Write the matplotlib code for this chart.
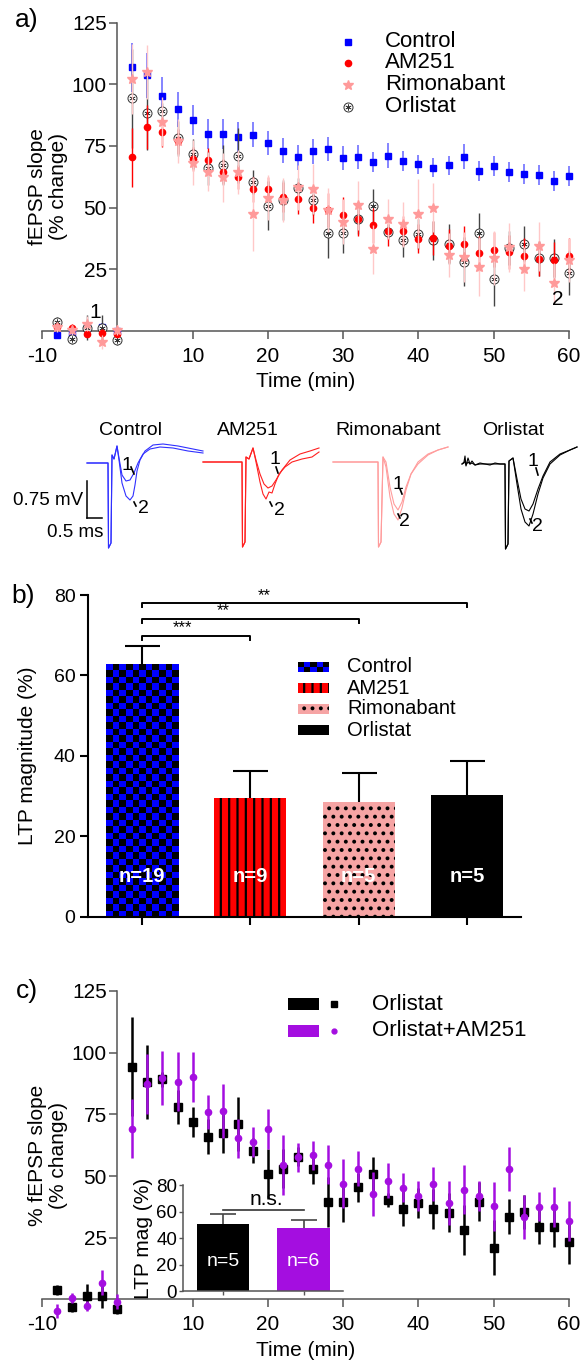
import numpy as np
import matplotlib
matplotlib.use("Agg")
import matplotlib.pyplot as plt
from matplotlib.colors import ListedColormap
from matplotlib.patches import Rectangle

plt.rcParams["font.family"] = ["Liberation Sans", "DejaVu Sans"]
plt.rcParams["hatch.linewidth"] = 1.6
plt.rcParams["axes.unicode_minus"] = False

# ---------------- data ----------------
time_min = [-8, -6, -4, -2, 0, 2, 4, 6, 8, 10, 12, 14, 16, 18, 20, 22, 24, 26, 28, 30,
            32, 34, 36, 38, 40, 42, 44, 46, 48, 50, 52, 54, 56, 58, 60]

control = [-1.6, -1.3, 1.1, 1.8, 0.0,
           106.8, 103.6, 95.1, 89.8, 85.5, 79.8, 79.8, 78.6, 79.5, 76.2, 73.1, 70.4, 72.8, 73.7, 70.1,
           70.5, 68.5, 71.0, 68.8, 67.5, 66.2, 67.1, 70.6, 64.8, 66.9, 64.3, 63.7, 63.1, 60.8, 62.8]
control_err = [1, 1, 1.5, 1.5, 1,
               10, 9, 8, 7, 6, 6, 6, 6, 5, 5, 5, 5, 5, 5, 5,
               5, 4, 5, 4, 4, 4, 4, 5, 4, 4, 4, 4, 4, 4, 4]

am251 = [1.8, 1.4, -1.1, -0.8, -1.1,
         70.4, 82.7, 80.5, 76.9, 69.7, 69.3, 64.6, 62.4, 57.4, 57.5, 54.4, 53.5, 49.7, 49.0, 47.1,
         45.4, 42.8, 40.4, 40.4, 37.4, 37.7, 34.4, 35.4, 31.5, 32.9, 32.0, 30.5, 29.2, 28.9, 30.5]
am251_err = [1.5, 1.5, 1.5, 1.5, 1.5,
             12, 9, 6, 5, 5, 5, 5, 5, 5, 5, 6, 6, 6, 7, 7,
             7, 7, 6, 6, 6, 7, 7, 7, 7, 7, 7, 7, 7, 7, 7]

rimonabant = [1.5, 0.5, 3.0, -4.5, 0.5,
              102.1, 105.0, 84.8, 77.0, 68.2, 64.6, 62.3, 64.3, 47.5, 54.0, 53.0, 58.2, 57.5, 49.0, 44.3,
              50.9, 33.1, 45.3, 43.2, 47.5, 50.0, 30.7, 30.0, 26.1, 29.6, 33.9, 25.2, 34.3, 19.4, 28.8]
rimonabant_err = [2, 2, 3, 3, 2,
                  14, 11, 10, 9, 9, 8, 10, 9, 15, 9, 9, 9, 10, 9, 9,
                  10, 10, 8, 9, 14, 10, 9, 10, 12, 11, 10, 9, 10, 8, 9]

orlistat = [3.8, -3.2, 1.4, 1.4, -3.8,
            94.3, 88.2, 89.2, 78.0, 71.8, 66.0, 67.3, 71.1, 60.3, 50.8, 53.0, 57.9, 52.9, 39.5, 39.5,
            45.4, 50.7, 40.3, 36.8, 39.2, 36.7, 35.2, 28.1, 39.6, 21.0, 33.6, 35.4, 29.4, 29.4, 23.4]
orlistat_err = [2, 2, 5, 5, 2,
                20, 15, 3, 7, 6, 7, 8, 11, 5, 10, 8, 4, 6, 10, 8,
                6, 7, 3, 7, 6, 8, 8, 10, 8, 11, 7, 7, 7, 8, 9]

orl_am251 = [-4.7, 0.7, -2.5, 6.8, -0.9,
             69.2, 87.3, 89.6, 88.2, 90.1, 75.9, 76.4, 65.3, 63.9, 69.0, 54.5, 57.6, 58.4, 54.6, 46.9,
             53.0, 42.7, 48.1, 45.3, 41.9, 46.7, 39.2, 44.5, 41.9, 37.7, 52.9, 33.3, 37.6, 37.5, 31.7]
orl_am251_err = [3, 2, 2, 5, 3,
                 12, 12, 11, 12, 10, 7, 11, 8, 6, 8, 12, 6, 6, 8, 10,
                 7, 9, 7, 6, 6, 7, 9, 10, 6, 10, 9, 9, 6, 8, 8]

groups_b = ["Control", "AM251", "Rimonabant", "Orlistat"]
ltp_b = [62.9, 29.5, 28.4, 30.3]
ltp_b_err = [4.5, 6.8, 7.3, 8.3]
n_b = ["n=19", "n=9", "n=5", "n=5"]
sig_pairs = [(0, 1), (0, 2), (0, 3)]
sig_labels = ["***", "**", "**"]
sig_heights = [69.7, 74.0, 77.9]

groups_inset = ["Orlistat", "Orlistat+AM251"]
ltp_inset = [50.4, 47.6]
ltp_inset_err = [7.5, 6.0]
n_inset = ["n=5", "n=6"]
ns_height = 61.1

# example traces (sample points, in pixels relative to stimulus)
trace_names = ["Control", "AM251", "Rimonabant", "Orlistat"]
tr_ctrl_1_x = [-21, 0, 0.5, 3, 4, 6, 9, 11, 14, 18, 22, 26, 30, 35, 42, 52, 65, 80, 95]
tr_ctrl_1_y = [0, 0, 85, 80, -8, -4, -17, -5, 12, 18, 17, 10, 0, -9, -14, -16, -15, -12, -10]
tr_ctrl_2_x = [-21, 0, 0.5, 3, 4, 6, 9, 11, 14, 18, 22, 25, 27, 29, 32, 37, 45, 55, 70, 85, 95]
tr_ctrl_2_y = [0, 0, 85, 80, -8, -4, -17, -3, 20, 33, 37, 33, 22, 8, -3, -12, -18, -19, -17, -14, -12]
tr_am_1_x = [-39, 0, 0.5, 3, 4, 7, 11, 14, 18, 22, 26, 30, 34, 40, 48, 58, 68, 77]
tr_am_1_y = [0, 0, 85, 80, -5, -3, -14, -2, 12, 22, 26, 24, 18, 8, -2, -8, -11, -14]
tr_am_2_x = [-39, 0, 0.5, 3, 4, 7, 11, 14, 18, 21, 24, 27, 30, 33, 37, 43, 50, 60, 70, 77]
tr_am_2_y = [0, 0, 85, 80, -5, -3, -14, 0, 20, 32, 37, 30, 31, 22, 12, 5, 0, -3, -5, -10]
tr_rim_1_x = [-45, 0, 0.5, 3, 5, 8, 12, 16, 20, 24, 28, 33, 40, 50, 60, 70]
tr_rim_1_y = [0, 0, 85, 80, -5, 0, 25, 42, 48, 40, 25, 12, 2, -7, -12, -15]
tr_rim_2_x = [-45, 0, 0.5, 3, 5, 8, 12, 16, 20, 24, 28, 33, 40, 50, 60, 70]
tr_rim_2_y = [0, 0, 85, 80, -5, 5, 35, 52, 58, 46, 28, 12, 0, -8, -12, -15]
tr_orl_1_x = [-43, -41, -40, -39, -37, -35, -33, -30, -25, -20, -15, -10, -5, 0, 0.5, 3, 4, 8,
              12, 16, 20, 24, 28, 33, 38, 45, 55, 65, 72]
tr_orl_1_y = [0, -2, -8, 2, -6, 0, -3, 1, -1, 0, 1, -1, 0, 0, 85, 80, -3, -6,
              15, 35, 45, 47, 40, 25, 12, -2, -10, -14, -17]
tr_orl_2_x = tr_orl_1_x
tr_orl_2_y = [0, -1, -3, 1, -2, 0, -1, 1, 0, 0, 0, 0, 0, 0, 85, 80, -3, -6,
              20, 45, 58, 62, 50, 30, 14, 0, -9, -14, -17]
scale_mv = 0.75
scale_ms = 0.5

# ---------------- layout helpers ----------------
W, H = 583, 1364
fig = plt.figure(figsize=(W / 100, H / 100), dpi=100)


def rect(l, t, r, b):
    return [l / W, 1 - b / H, (r - l) / W, (b - t) / H]


BLUE = "#0000ff"
RED = "#ff0000"
PINK = "#ff9a9a"
PURPLE = "#a40ee0"
TICK_FS = 15


def style_time_axes(ax, spine_color):
    ax.set_xlim(-10, 60)
    ax.set_ylim(-8, 125)
    for s in ["top", "right"]:
        ax.spines[s].set_visible(False)
    ax.spines["left"].set_position(("data", 0))
    ax.spines["bottom"].set_position(("data", 0))
    ax.spines["left"].set_bounds(0, 125)
    ax.spines["bottom"].set_bounds(-10, 60)
    for s in ["left", "bottom"]:
        ax.spines[s].set_color(spine_color)
        ax.spines[s].set_linewidth(1.1)
    ax.set_xticks([-10, 10, 20, 30, 40, 50, 60])
    ax.set_yticks([25, 50, 75, 100, 125])
    ax.tick_params(axis="x", length=5.5, width=1.1, color=spine_color, labelsize=TICK_FS, pad=6)
    ax.tick_params(axis="y", length=5.5, width=1.1, color=spine_color, labelsize=TICK_FS, pad=2)
    ax.set_xlabel("Time (min)", fontsize=TICK_FS)
    ax.xaxis.set_label_coords(0.5, -0.065)
    ax.patch.set_visible(False)


# ---------------- panel a ----------------
ax_a = fig.add_axes(rect(42, 22.5, 569, 350.7))
style_time_axes(ax_a, "#555555")
ax_a.set_ylabel("fEPSP slope\n(% change)", fontsize=TICK_FS, linespacing=1.15)
ax_a.yaxis.set_label_coords(0.05, 0.5)

ax_a.errorbar(time_min, control, yerr=control_err, fmt="s", color=BLUE, ms=5, ecolor="#7070ff",
              elinewidth=1.2, capsize=0, zorder=3, clip_on=False)
ax_a.errorbar(time_min, orlistat, yerr=orlistat_err, fmt="o", mfc="white", mec="#333333", ms=6.5,
              mew=0.7, ecolor="#444444", elinewidth=1.0, capsize=0, zorder=4, clip_on=False)
ax_a.plot(time_min, orlistat, ls="none", marker=(6, 2, 0), ms=4.5, mew=0.45, color="#333333",
          zorder=4.1, clip_on=False)
ax_a.errorbar(time_min, am251, yerr=am251_err, fmt="o", color=RED, ms=4.5, ecolor=RED,
              elinewidth=1.0, capsize=0, zorder=5, clip_on=False)
ax_a.errorbar(time_min, rimonabant, yerr=rimonabant_err, fmt="*", color=PINK, ms=7.5,
              ecolor="#ffc8c8", elinewidth=1.0, capsize=0, zorder=6, clip_on=False)
ax_a.text(-2.96, 7.3, "1", fontsize=TICK_FS, ha="center", va="center", zorder=7)
ax_a.text(58.5, 12.6, "2", fontsize=TICK_FS, ha="center", va="center", zorder=7)

# ---------------- traces ----------------
PX_PER_MS = 30.0
PX_PER_MV = 48.9
ax_t = fig.add_axes(rect(0, 405, 583, 555))
ax_t.set_xlim(0, W / PX_PER_MS)
ax_t.set_ylim(-150 / PX_PER_MV, 0)
ax_t.axis("off")


def px2t(px, py):
    return px / PX_PER_MS, -(py - 405) / PX_PER_MV


trace_sets = [
    ((108, 463), "#3030ff", [(tr_ctrl_1_x, tr_ctrl_1_y), (tr_ctrl_2_x, tr_ctrl_2_y)]),
    ((242, 462), "#ff2020", [(tr_am_1_x, tr_am_1_y), (tr_am_2_x, tr_am_2_y)]),
    ((378, 462), "#ff9c9c", [(tr_rim_1_x, tr_rim_1_y), (tr_rim_2_x, tr_rim_2_y)]),
    ((505, 464), "#000000", [(tr_orl_1_x, tr_orl_1_y), (tr_orl_2_x, tr_orl_2_y)]),
]
for (ox, oy), col, sweeps in trace_sets:
    x0, y0 = px2t(ox, oy)
    for sx, sy in sweeps:
        ax_t.plot(x0 + np.array(sx) / PX_PER_MS, y0 - np.array(sy) / PX_PER_MV, color=col, lw=0.8)

title_pos = [(130, 430), (248, 430), (388, 430), (513, 430)]
for name, (px, py) in zip(trace_names, title_pos):
    ax_t.text(*px2t(px, py), name, fontsize=14, ha="center", va="center")

num_labels = [
    ("1", (126.7, 465), (131, 467), (134, 474)), ("2", (143, 508), (134, 502), (136, 506)),
    ("1", (275, 459), (276, 467), (278, 473)), ("2", (279, 510), (270, 502), (272, 506)),
    ("1", (398, 484), (400, 489), (402, 494)), ("2", (404, 521), (398, 514), (400, 518)),
    ("1", (533, 461), (536, 468), (538, 475)), ("2", (537, 526), (530, 519), (532, 523)),
]
for lab, tp, a, b in num_labels:
    ax_t.text(*px2t(*tp), lab, fontsize=14, ha="center", va="center")
    (ax_, ay_), (bx_, by_) = px2t(*a), px2t(*b)
    ax_t.plot([ax_, bx_], [ay_, by_], color="black", lw=1.2)

sb_x, sb_y = px2t(87, 518)
ax_t.plot([sb_x, sb_x], [sb_y, sb_y + scale_mv], color="black", lw=1.1)
ax_t.plot([sb_x, sb_x + scale_ms], [sb_y, sb_y], color="black", lw=1.1)
ax_t.text(*px2t(83, 500), f"{scale_mv} mV", fontsize=13.5, ha="right", va="center")
ax_t.text(*px2t(75, 532), f"{scale_ms} ms", fontsize=13.5, ha="center", va="center")

# ---------------- panel b ----------------
ax_b = fig.add_axes(rect(88, 595, 521, 916.7))
xb = np.arange(len(groups_b))
bw = 0.667
bars = ax_b.bar(xb, ltp_b, width=bw, zorder=2, linewidth=0)
bars[0].set_facecolor(BLUE)
bars[1].set_facecolor(RED)
bars[1].set_edgecolor("black")
bars[1].set_hatch("||")
bars[2].set_facecolor("#f6a4a4")
bars[2].set_edgecolor("black")
bars[2].set_hatch("..")
bars[3].set_facecolor("black")
ax_b.set_xlim(-0.5, 3.5)
ax_b.set_ylim(0, 80)

checker_cmap = ListedColormap([BLUE, "#000000"])


def checker(ax, x0, x1, y0, y1, ncols, nrows, zorder=2.5, clip=None):
    grid = np.add.outer(np.arange(nrows), np.arange(ncols)) % 2
    im = ax.imshow(grid, cmap=checker_cmap, extent=(x0, x1, y0, y1), aspect="auto",
                   interpolation="nearest", origin="lower", zorder=zorder)
    if clip is not None:
        im.set_clip_path(clip)
    return im


cb = bars[0]
p0 = ax_b.transData.transform((cb.get_x(), 0))
p1 = ax_b.transData.transform((cb.get_x() + cb.get_width(), cb.get_height()))
ncols = 11
cell = (p1[0] - p0[0]) / ncols
nrows = int(round((p1[1] - p0[1]) / cell))
checker(ax_b, cb.get_x(), cb.get_x() + cb.get_width(), 0, cb.get_height(), ncols, nrows, clip=cb)
ax_b.set_xlim(-0.5, 3.5)
ax_b.set_ylim(0, 80)

eb = ax_b.errorbar(xb, ltp_b, yerr=[np.zeros(len(ltp_b)), ltp_b_err], fmt="none", ecolor="black",
                   elinewidth=1.5, capsize=12.6, capthick=1.5, zorder=1.5)
eb[1][0].set_visible(False)

for i, lab in enumerate(n_b):
    ax_b.text(xb[i], 10, lab, color="white", fontsize=14.5, fontweight="bold", ha="center",
              va="center", zorder=4)

for (i, j), lab, h in zip(sig_pairs, sig_labels, sig_heights):
    ax_b.plot([xb[i], xb[i], xb[j], xb[j]], [h - 1.0, h, h, h - 1.0], color="black", lw=1.4,
              clip_on=False)
    ax_b.text(xb[i] + 0.375 * (xb[j] - xb[i]), h + 0.2, lab, fontsize=12, ha="center",
              va="bottom", clip_on=False)

for s in ["top", "right"]:
    ax_b.spines[s].set_visible(False)
for s in ["left", "bottom"]:
    ax_b.spines[s].set_linewidth(1.5)
ax_b.set_xticks(xb)
ax_b.set_xticklabels([])
ax_b.set_yticks([0, 20, 40, 60, 80])
ax_b.tick_params(axis="both", length=6, width=1.5, labelsize=14, pad=3)
ax_b.set_ylabel("LTP magnitude (%)", fontsize=15)
ax_b.yaxis.set_label_coords(-0.118, 0.5)
ax_b.patch.set_visible(False)

# ---------------- panel c ----------------
ax_c = fig.add_axes(rect(42, 991, 569, 1319.2))
style_time_axes(ax_c, "#555555")
ax_c.set_ylabel("% fEPSP slope\n(% change)", fontsize=TICK_FS, linespacing=1.15)
ax_c.yaxis.set_label_coords(0.05, 0.5)
ax_c.xaxis.set_label_coords(0.5, -0.066)
ax_c.errorbar(time_min, orlistat, yerr=orlistat_err, fmt="s", color="black", ms=5.5,
              ecolor="black", elinewidth=1.8, capsize=0, zorder=3, clip_on=False)
ax_c.errorbar(time_min, orl_am251, yerr=orl_am251_err, fmt="o", color=PURPLE, ms=4.5,
              ecolor=PURPLE, elinewidth=1.8, capsize=0, zorder=4, clip_on=False)

# inset
ax_i = fig.add_axes(rect(182.7, 1185, 343.3, 1291.3))
ax_i.patch.set_visible(False)
xi = np.arange(len(groups_inset))
ax_i.bar(xi, ltp_inset, width=0.652, color=["black", PURPLE], linewidth=0, zorder=2)
ebi = ax_i.errorbar(xi, ltp_inset, yerr=[np.zeros(len(ltp_inset)), ltp_inset_err], fmt="none",
                    ecolor="#444444", elinewidth=1.2, capsize=9.6, capthick=1.2, zorder=1.5)
ebi[1][0].set_visible(False)
for i, lab in enumerate(n_inset):
    ax_i.text(xi[i], 22.3, lab, color="white", fontsize=14, ha="center", va="center", zorder=4)
ax_i.plot([xi[0], xi[1]], [ns_height, ns_height], color="#333333", lw=1.2, clip_on=False)
ax_i.text((xi[0] + xi[1]) / 2 + 0.04, ns_height + 0.5, "n.s.", fontsize=15, ha="center",
          va="bottom", clip_on=False)
ax_i.set_xlim(-0.5, 1.49)
ax_i.set_ylim(0, 80)
for s in ["top", "right"]:
    ax_i.spines[s].set_visible(False)
for s in ["left", "bottom"]:
    ax_i.spines[s].set_color("#555555")
    ax_i.spines[s].set_linewidth(1.1)
ax_i.set_xticks(xi)
ax_i.set_xticklabels([])
ax_i.set_yticks([0, 20, 40, 60, 80])
ax_i.tick_params(axis="both", length=3, width=1.0, color="#555555", labelsize=13.5, pad=1)
ax_i.set_ylabel("LTP mag (%)", fontsize=15, labelpad=2)

# ---------------- overlay: legends & panel letters ----------------
ax_o = fig.add_axes([0, 0, 1, 1])
ax_o.set_xlim(0, W)
ax_o.set_ylim(H, 0)
ax_o.axis("off")

# legend a
leg_a_y = [41.7, 63, 84.7, 106.7]
leg_a_labels = ["Control", "AM251", "Rimonabant", "Orlistat"]
ax_o.plot([348], [leg_a_y[0]], marker="s", ms=5, color=BLUE, ls="none")
ax_o.plot([348], [leg_a_y[1]], marker="o", ms=4.5, color=RED, ls="none")
ax_o.plot([348], [leg_a_y[2]], marker="*", ms=7.5, color=PINK, ls="none")
ax_o.plot([348], [leg_a_y[3]], marker="o", ms=6.5, mfc="white", mec="#333333", mew=0.7, ls="none")
ax_o.plot([348], [leg_a_y[3]], marker=(6, 2, 0), ms=4.5, mew=0.45, color="#333333", ls="none")
for y, lab in zip(leg_a_y, leg_a_labels):
    ax_o.text(385, y, lab, fontsize=16, va="center", ha="left")

# legend b
leg_b_y = [666.7, 688, 708.5, 730]
checker(ax_o, 298, 329, leg_b_y[0] + 5, leg_b_y[0] - 5, 5, 2, zorder=3)
ax_o.add_patch(Rectangle((298, leg_b_y[1] - 5), 31, 10, facecolor=RED, edgecolor="black",
                         hatch="||", linewidth=0))
ax_o.add_patch(Rectangle((298, leg_b_y[2] - 5), 31, 10, facecolor="#f6a4a4", edgecolor="black",
                         hatch="..", linewidth=0))
ax_o.add_patch(Rectangle((298, leg_b_y[3] - 5), 31, 10, facecolor="black", linewidth=0))
for y, lab in zip(leg_b_y, groups_b):
    ax_o.text(347, y, lab, fontsize=14.5, va="center", ha="left")
ax_o.set_xlim(0, W)
ax_o.set_ylim(H, 0)

# legend c
leg_c_y = [1004, 1031]
for y, col, mk, ms, lab in zip(leg_c_y, ["black", PURPLE], ["s", "o"], [5, 3.5], groups_inset):
    ax_o.add_patch(Rectangle((288, y - 6), 31, 12, facecolor=col, linewidth=0))
    ax_o.plot([334], [y], marker=mk, ms=ms, color=col, ls="none")
    ax_o.text(372, y, lab, fontsize=16, va="center", ha="left")

# panel letters
for lab, (px, py) in zip(["a)", "b)", "c)"], [(27, 20), (23, 596), (27, 991)]):
    ax_o.text(px, py, lab, fontsize=19, ha="center", va="center")

fig.savefig("out.png", dpi=100)
